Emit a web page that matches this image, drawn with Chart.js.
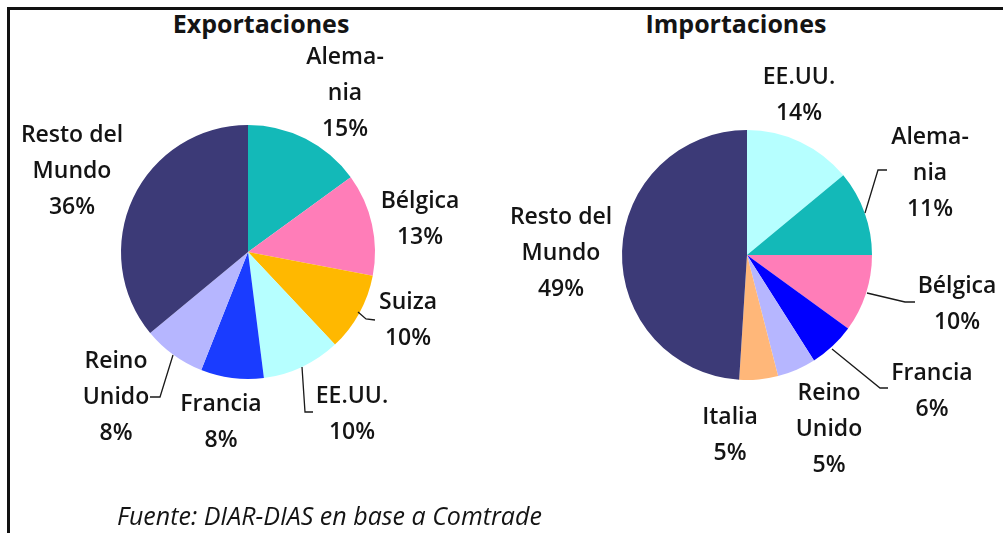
<!DOCTYPE html>
<html>
<head>
<meta charset="utf-8">
<script src="https://cdn.jsdelivr.net/npm/chart.js@4.4.1/dist/chart.umd.min.js"></script>
<style>
    body { margin: 0; background: #fff; width: 1003px; height: 533px; position: relative; overflow: hidden; font-family: 'Open Sans', sans-serif; color: #141414; }
    .frame-top { position: absolute; left: 7px; top: 7px; width: 996px; height: 3px; background: #111; }
    .frame-left { position: absolute; left: 7px; top: 7px; width: 3px; height: 526px; background: #111; }
    canvas { position: absolute; top: 0; }
    .title { position: absolute; top: 6px; font-weight: bold; font-size: 25px; line-height: 34px; transform: translateX(-50%); white-space: nowrap; }
    .source { position: absolute; left: 117px; top: 498px; font-style: italic; font-size: 25px; line-height: 34px; white-space: nowrap; }
</style>
</head>
<body>
<div class="frame-top"></div>
<div class="frame-left"></div>
<div class="title" style="left:261px">Exportaciones</div>
<div class="title" style="left:736px">Importaciones</div>
<canvas id="expChart" width="500" height="533" style="left:0"></canvas>
<canvas id="impChart" width="503" height="533" style="left:500px"></canvas>
<div class="source">Fuente: DIAR-DIAS en base a Comtrade</div>

<script>
// ------------------------------------
// Data (shares in %)
// ------------------------------------
const expCountries = ['Alemania', 'Bélgica', 'Suiza', 'EE.UU.', 'Francia', 'Reino Unido', 'Resto del Mundo'];
const expShares = [15, 13, 10, 10, 8, 8, 36];

const impCountries = ['EE.UU.', 'Alemania', 'Bélgica', 'Francia', 'Reino Unido', 'Italia', 'Resto del Mundo'];
const impShares = [14, 11, 10, 6, 5, 5, 49];

// how each name is broken into lines on the chart
const wrapNames = {
    'Alemania': ['Alema-', 'nia'],
    'Reino Unido': ['Reino', 'Unido'],
    'Resto del Mundo': ['Resto del', 'Mundo']
};

const palette = {
    'Alemania': '#13B9B8',
    'Bélgica': '#FF7DB8',
    'Suiza': '#FFB800',
    'EE.UU.': '#B6FFFF',
    'Reino Unido': '#B6B6FF',
    'Italia': '#FFB779',
    'Resto del Mundo': '#3C3A77'
};

// label block centre, relative to pie centre
const expLabelPos = [[97, -159], [172, -33], [160, 68], [104, 162], [-27, 170], [-132, 145], [-176, -81]];
const impLabelPos = [[52, -160], [183, -82], [210, 49], [185, 136], [82, 174], [-17, 180], [-186, -2]];

// leader lines, relative to pie centre (null = none)
const expLeaders = [null, null, [[110, 60], [118, 67], [127, 68]], [[54, 115], [57, 160], [65, 160]], null, [[-75, 103], [-88, 145], [-98, 145]], null];
const impLeaders = [null, [[118, -42], [131, -85], [140, -85]], [[120, 38], [158, 47], [168, 47]], [[85, 94], [133, 133], [141, 133]], null, null, null];

// ------------------------------------
// Label plugin
// ------------------------------------
const sliceLabels = {
    id: 'sliceLabels',
    afterDraw(chart, args, opts) {
        const ctx = chart.ctx;
        const meta = chart.getDatasetMeta(0);
        const values = chart.data.datasets[0].data;
        const names = chart.data.labels;
        ctx.save();
        ctx.font = '600 23px "Open Sans", sans-serif';
        ctx.fillStyle = '#141414';
        ctx.strokeStyle = '#1a1a1a';
        ctx.lineWidth = 1.3;
        ctx.textAlign = 'center';
        ctx.textBaseline = 'middle';
        const lineH = 36;
        meta.data.forEach((arc, i) => {
            const cx = arc.x, cy = arc.y;
            const lines = (wrapNames[names[i]] || [names[i]]).concat(values[i] + '%');
            const [dx, dy] = opts.positions[i];
            const top = cy + dy - (lines.length - 1) * lineH / 2;
            lines.forEach((t, k) => ctx.fillText(t, cx + dx, top + k * lineH));
            const lead = opts.leaders[i];
            if (lead) {
                ctx.beginPath();
                lead.forEach((p, k) => k === 0 ? ctx.moveTo(cx + p[0], cy + p[1]) : ctx.lineTo(cx + p[0], cy + p[1]));
                ctx.stroke();
            }
        });
        ctx.restore();
    }
};

function makePie(canvasId, names, shares, colors, padding, positions, leaders) {
    new Chart(document.getElementById(canvasId), {
        type: 'pie',
        data: {
            labels: names,
            datasets: [{ data: shares, backgroundColor: colors, borderWidth: 0 }]
        },
        options: {
            responsive: false,
            animation: false,
            layout: { padding: padding },
            plugins: {
                legend: { display: false },
                tooltip: { enabled: false },
                sliceLabels: { positions: positions, leaders: leaders }
            }
        },
        plugins: [sliceLabels]
    });
}

const expColors = expCountries.map(n => n === 'Francia' ? '#1A3CFF' : palette[n]);
const impColors = impCountries.map(n => n === 'Francia' ? '#0000FF' : palette[n]);

makePie('expChart', expCountries, expShares, expColors, { left: 121, right: 125, top: 125, bottom: 154 }, expLabelPos, expLeaders);
makePie('impChart', impCountries, impShares, impColors, { left: 122, right: 131, top: 130, bottom: 153 }, impLabelPos, impLeaders);
</script>
</body>
</html>
